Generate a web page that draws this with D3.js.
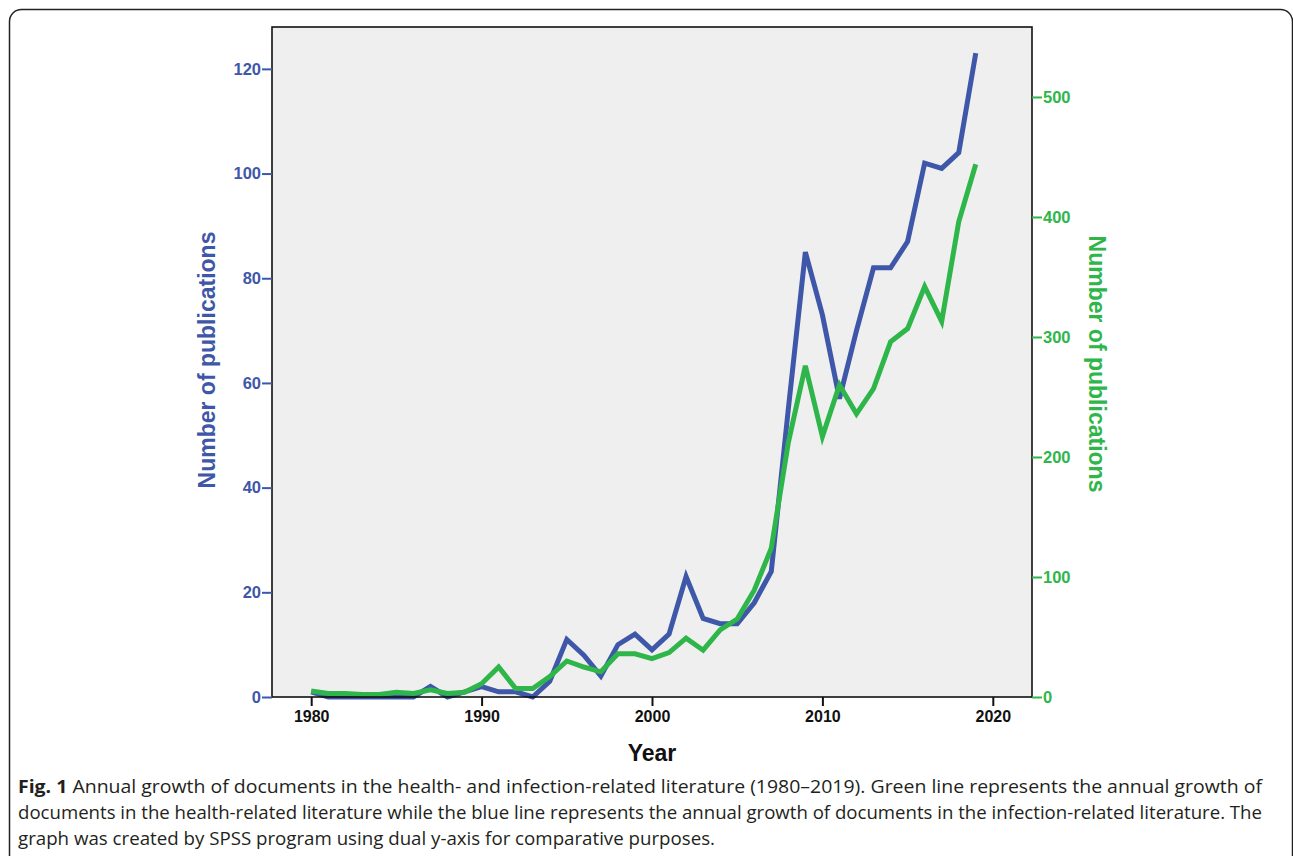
<!DOCTYPE html>
<html lang="en">
<head>
<meta charset="utf-8">
<script src="https://d3js.org/d3.v7.min.js"></script>
<style>
  body { margin: 0; background: #fff; }
  svg text { font-family: "Liberation Sans", Arial, sans-serif; }
</style>
</head>
<body>

<div id="graph"></div>

<script>

// years on the x axis
var years = d3.range(1980, 2020);

// infection-related literature (left axis, blue)
var infection = [1, 0, 0, 0, 0, 0, 0, 2, 0, 1,
                 2, 1, 1, 0, 3, 11, 8, 4, 10, 12,
                 9, 12, 23, 15, 14, 14, 18, 24, 55, 85,
                 73, 57, 70, 82, 82, 87, 102, 101, 104, 123];

// health-related literature (right axis, green)
var health = [5, 3, 3, 2, 2, 4, 3, 6, 3, 4,
              11, 25, 7, 7, 17, 30, 25, 21, 36, 36,
              32, 37, 49, 39, 56, 65, 89, 124, 212, 276,
              217, 260, 236, 257, 296, 307, 342, 313, 396, 444];

var xTicks = [1980, 1990, 2000, 2010, 2020];
var leftTicks = [0, 20, 40, 60, 80, 100, 120];
var rightTicks = [0, 100, 200, 300, 400, 500];

var blue = "#3f57a8", green = "#2fb64a";

var W = 1293, H = 856;
var plot = {left: 272, top: 27, right: 1032, bottom: 697};

var svg = d3.select("#graph")
  .append("svg")
    .attr("width", W)
    .attr("height", H);

// outer frame of the figure
svg.append("rect")
    .attr("x", 9.5).attr("y", 9.5)
    .attr("width", 1283).attr("height", 900)
    .attr("rx", 12)
    .attr("fill", "none")
    .attr("stroke", "#222")
    .attr("stroke-width", 1.5);

var x = d3.scaleLinear()
    .domain([1977.7, 2022.3])
    .range([plot.left, plot.right]);

var yL = d3.scaleLinear()
    .domain([0, 128])
    .range([plot.bottom, plot.top]);

var yR = d3.scaleLinear()
    .domain([0, 558.3])
    .range([plot.bottom, plot.top]);

// plot background
svg.append("rect")
    .attr("x", plot.left).attr("y", plot.top)
    .attr("width", plot.right - plot.left)
    .attr("height", plot.bottom - plot.top)
    .attr("fill", "#efefef");

// lines
var lineL = d3.line()
    .x(function (d, i) { return x(years[i]); })
    .y(function (d) { return yL(d); });

var lineR = d3.line()
    .x(function (d, i) { return x(years[i]); })
    .y(function (d) { return yR(d); });

svg.append("path")
    .datum(infection)
    .attr("d", lineL)
    .attr("fill", "none")
    .attr("stroke", blue)
    .attr("stroke-width", 5)
    .attr("stroke-linejoin", "miter");

svg.append("path")
    .datum(health)
    .attr("d", lineR)
    .attr("fill", "none")
    .attr("stroke", green)
    .attr("stroke-width", 5)
    .attr("stroke-linejoin", "miter");

// plot border
svg.append("rect")
    .attr("x", plot.left).attr("y", plot.top)
    .attr("width", plot.right - plot.left)
    .attr("height", plot.bottom - plot.top)
    .attr("fill", "none")
    .attr("stroke", "#111")
    .attr("stroke-width", 1.6);

// x axis
var xAxis = svg.append("g")
    .attr("transform", "translate(0," + plot.bottom + ")")
    .call(d3.axisBottom(x).tickValues(xTicks).tickFormat(d3.format("d")).tickSize(9).tickSizeOuter(0));
xAxis.select(".domain").remove();
xAxis.selectAll("line").attr("stroke", "#111").attr("stroke-width", 2);
xAxis.selectAll("text")
    .attr("y", 14)
    .attr("fill", "#111")
    .style("font-size", "16px")
    .style("font-weight", "bold");

// left axis
var lAxis = svg.append("g")
    .attr("transform", "translate(" + plot.left + ",0)")
    .call(d3.axisLeft(yL).tickValues(leftTicks).tickSize(10).tickPadding(1));
lAxis.select(".domain").remove();
lAxis.selectAll("line").attr("stroke", blue).attr("stroke-width", 2);
lAxis.selectAll("text")
    .attr("fill", blue)
    .style("font-size", "16.5px")
    .style("font-weight", "bold");

// right axis
var rAxis = svg.append("g")
    .attr("transform", "translate(" + plot.right + ",0)")
    .call(d3.axisRight(yR).tickValues(rightTicks).tickSize(10).tickPadding(1));
rAxis.select(".domain").remove();
rAxis.selectAll("line").attr("stroke", green).attr("stroke-width", 2);
rAxis.selectAll("text")
    .attr("fill", green)
    .style("font-size", "16.5px")
    .style("font-weight", "bold");

// axis titles
svg.append("text")
    .attr("text-anchor", "middle")
    .attr("transform", "translate(215,360) rotate(-90)")
    .attr("fill", blue)
    .style("font-size", "23px")
    .style("font-weight", "bold")
    .text("Number of publications");

svg.append("text")
    .attr("text-anchor", "middle")
    .attr("transform", "translate(1089,364) rotate(90)")
    .attr("fill", green)
    .style("font-size", "23px")
    .style("font-weight", "bold")
    .text("Number of publications");

svg.append("text")
    .attr("text-anchor", "middle")
    .attr("x", x(2000))
    .attr("y", 761)
    .attr("fill", "#111")
    .style("font-size", "23px")
    .style("font-weight", "bold")
    .text("Year");

// caption, one text per line stretched to the reference line widths
var cap = [
  "Annual growth of documents in the health- and infection-related literature (1980\u20132019). Green line represents the annual growth of",
  "documents in the health-related literature while the blue line represents the annual growth of documents in the infection-related literature. The",
  "graph was created by SPSS program using dual y-axis for comparative purposes."
];
var capWidths = [1244, 1244, 697];

cap.forEach(function (line, i) {
  var t = svg.append("text")
      .attr("x", 18)
      .attr("y", 793 + i * 26)
      .attr("fill", "#231f20")
      .attr("textLength", capWidths[i])
      .attr("lengthAdjust", "spacingAndGlyphs")
      .style("font-family", "'Open Sans', sans-serif")
      .style("font-size", "18.5px");
  if (i === 0) {
    t.append("tspan").style("font-weight", "bold").text("Fig. 1");
    t.append("tspan").text(" " + line);
  } else {
    t.text(line);
  }
});

</script>
</body>
</html>
